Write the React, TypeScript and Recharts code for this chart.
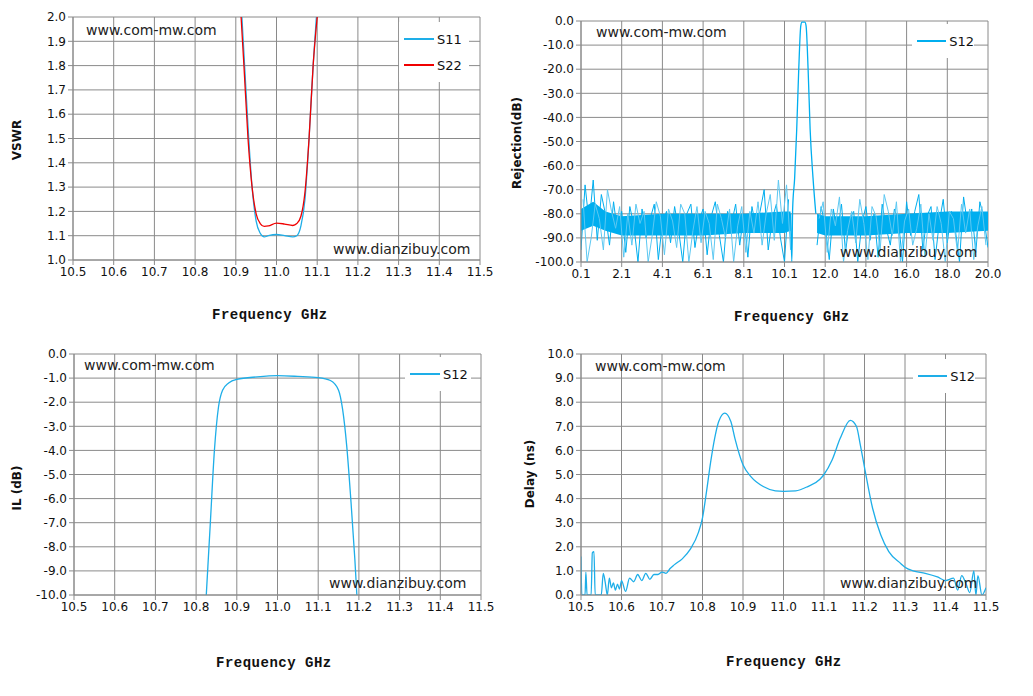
import React from "react";
import { Area, CartesianGrid, ComposedChart, Line, XAxis, YAxis } from "recharts";

const BLUE = "#1eaee8";
const RED = "#f00000";
const GRID = "#8a8a8a";

// ---- VSWR
const vswrS11X = [10.915, 10.92, 10.93, 10.94, 10.95, 10.96, 10.97, 10.98, 11.0, 11.02, 11.04, 11.05, 11.06, 11.07, 11.08, 11.09, 11.098];
const vswrS11Y = [2.0, 1.85, 1.55, 1.3, 1.16, 1.11, 1.095, 1.1, 1.105, 1.1, 1.095, 1.1, 1.14, 1.25, 1.5, 1.8, 2.0];
const vswrS22X = [10.913, 10.92, 10.93, 10.94, 10.95, 10.96, 10.97, 10.98, 11.0, 11.02, 11.04, 11.05, 11.06, 11.07, 11.08, 11.09, 11.1];
const vswrS22Y = [2.0, 1.8, 1.5, 1.3, 1.19, 1.15, 1.138, 1.14, 1.152, 1.148, 1.142, 1.15, 1.18, 1.28, 1.5, 1.8, 2.0];

// ---- Rejection (x = tick position, labels are evenly spaced)
const rejTickLabels = ["0.1", "2.1", "4.1", "6.1", "8.1", "10.1", "12.0", "14.0", "16.0", "18.0", "20.0"];
const rejLeft = [-95, -68, -84, -66, -91, -72, -80, -93, -75, -88, -79, -96, -77, -85, -100, -78, -90, -82, -76, -99, -84, -79, -92, -77, -87, -100, -80, -76, -94, -83, -78, -97, -81, -75, -89, -100, -79, -84, -76, -93, -80, -98, -77, -86, -79, -70, -95, -82, -76, -90, -100, -74];
const rejPassX = [5.15, 5.18, 5.2, 5.25, 5.3, 5.35, 5.4, 5.43, 5.5, 5.53, 5.58, 5.63, 5.7, 5.77];
const rejPassY = [-80, -100, -78, -65, -45, -20, -2, -0.5, -0.5, -2, -20, -45, -65, -80];
const rejRight = [-93, -77, -85, -99, -78, -88, -76, -96, -82, -79, -100, -84, -77, -91, -80, -98, -76, -86, -93, -78, -83, -100, -75, -89, -79, -72, -95, -81, -77, -99, -84, -74, -92, -79, -87, -100, -73, -85, -78, -96, -75, -82, -94];
const bandLeftX = [0, 0.3, 0.6, 1, 2, 3, 4, 5, 5.15];
const bandLeftHi = [-78, -75, -79, -81, -80, -80, -80, -79, -79];
const bandLeftLo = [-87, -85, -87, -89, -89, -89, -88, -88, -87];
const bandRightX = [5.8, 6, 7, 8, 9, 10];
const bandRightHi = [-80, -81, -81, -80, -79, -79];
const bandRightLo = [-88, -89, -89, -88, -88, -87];

// ---- IL
const ilX = [10.825, 10.835, 10.845, 10.855, 10.865, 10.88, 10.9, 10.95, 11.0, 11.05, 11.1, 11.13, 11.15, 11.16, 11.17, 11.18, 11.19, 11.195];
const ilY = [-10, -7, -4, -2.2, -1.5, -1.2, -1.05, -0.95, -0.9, -0.93, -0.98, -1.1, -1.5, -2.3, -3.8, -6, -8.5, -10];

// ---- Delay
const dlX = [10.5, 10.502, 10.51, 10.512, 10.515, 10.525, 10.528, 10.532, 10.535, 10.55, 10.555, 10.56, 10.565, 10.57, 10.575, 10.58, 10.585, 10.59, 10.595, 10.6, 10.61, 10.62, 10.63, 10.64, 10.65, 10.66, 10.67, 10.68, 10.69, 10.7, 10.71, 10.72, 10.73, 10.75, 10.77, 10.79, 10.8, 10.81, 10.82, 10.83, 10.84, 10.855, 10.87, 10.88, 10.9, 10.92, 10.95, 10.98, 11.0, 11.03, 11.06, 11.09, 11.1, 11.12, 11.14, 11.165, 11.18, 11.19, 11.2, 11.22, 11.24, 11.26, 11.29, 11.3, 11.32, 11.35, 11.38, 11.4, 11.42, 11.43, 11.44, 11.45, 11.46, 11.47, 11.475, 11.48, 11.49, 11.5];
const dlY = [1.6, 0, 0, 0.95, 0, 0, 1.75, 1.8, 0, 0, 0.9, 0.5, 0, 0.7, 0.3, 0.5, 0.2, 0.45, 0.25, 0.6, 0.15, 0.7, 0.55, 0.85, 0.6, 0.9, 0.65, 0.85, 0.85, 0.95, 0.9, 1.1, 1.25, 1.5, 1.9, 2.6, 3.2, 4.3, 5.5, 6.5, 7.2, 7.55, 7.2, 6.5, 5.4, 4.9, 4.5, 4.32, 4.3, 4.32, 4.5, 4.8, 5.0, 5.6, 6.5, 7.25, 7.0, 6.2, 5.3, 3.6, 2.5, 1.8, 1.3, 1.15, 1.0, 0.9, 0.75, 0.6, 0.7, 0.2, 0.8, 0.5, 0.1, 1.0, 0, 0.8, 0, 0.3];

const ghzTicks = [10.5, 10.6, 10.7, 10.8, 10.9, 11.0, 11.1, 11.2, 11.3, 11.4, 11.5];
const pts = (xs: number[], ys: number[]) => xs.map((x, i) => ({ x, y: ys[i] }));
const seq = (start: number, ys: number[]) => ys.map((y, i) => ({ x: +(start + i * 0.1).toFixed(2), y }));
const band = (xs: number[], lo: number[], hi: number[]) => xs.map((x, i) => ({ x, r: [lo[i], hi[i]] }));

const tickStyle = { fontSize: 12, fill: "#111", fontFamily: "DejaVu Sans" };
const wm: React.CSSProperties = { position: "absolute", fontFamily: "DejaVu Sans", fontSize: 14, color: "#222", lineHeight: "16px", whiteSpace: "nowrap" };
const title: React.CSSProperties = { position: "absolute", fontFamily: "Liberation Mono", fontWeight: "bold", fontSize: 14, color: "#111", whiteSpace: "nowrap", letterSpacing: 0.5 };
const ytitle: React.CSSProperties = { position: "absolute", fontFamily: "DejaVu Sans", fontWeight: "bold", fontSize: 12, color: "#111", whiteSpace: "nowrap", transform: "translate(-50%,-50%) rotate(-90deg)" };

function Text({ x, y, s, st }: { x: number; y: number; s: string; st: React.CSSProperties }) {
  return <div style={{ ...st, left: x, top: y }}>{s}</div>;
}

function LegendBox({ x, y, w, items }: { x: number; y: number; w: number; items: { name: string; color: string }[] }) {
  return (
    <div style={{ position: "absolute", left: x, top: y, width: w, background: "#fff", padding: "4px 0" }}>
      {items.map((it) => (
        <div key={it.name} style={{ display: "flex", alignItems: "center", height: 26 }}>
          <div style={{ width: 30, height: 1.5, background: it.color, marginLeft: 5, marginRight: 3 }} />
          <span style={{ fontFamily: "DejaVu Sans", fontSize: 13, color: "#111" }}>{it.name}</span>
        </div>
      ))}
    </div>
  );
}

function Panel(props: {
  left: number; top: number; plot: [number, number, number, number];
  xDomain: [number, number]; xTicks: number[]; xFmt: (v: number) => string;
  yDomain: [number, number]; yTicks: number[]; yFmt: (v: number) => string;
  children: React.ReactNode;
}) {
  const W = 500, H = 330;
  const [pl, pt, pr, pb] = props.plot;
  return (
    <div style={{ position: "absolute", left: props.left, top: props.top }}>
      <ComposedChart width={W} height={H} margin={{ top: pt, right: W - pr, left: 0, bottom: H - pb - 30 }}>
        <CartesianGrid stroke={GRID} strokeWidth={1} />
        <XAxis type="number" dataKey="x" domain={props.xDomain} ticks={props.xTicks} tickFormatter={props.xFmt}
          allowDataOverflow height={30} tick={tickStyle} stroke={GRID} tickSize={5} interval={0} />
        <YAxis type="number" domain={props.yDomain} ticks={props.yTicks} tickFormatter={props.yFmt}
          allowDataOverflow width={pl} tick={tickStyle} stroke={GRID} tickSize={5} interval={0} />
        {props.children}
      </ComposedChart>
    </div>
  );
}

const range = (a: number, b: number, s: number) => {
  const out: number[] = [];
  for (let v = a; v <= b + 1e-9; v += s) out.push(+v.toFixed(2));
  return out;
};

export default function App() {
  const f1 = (v: number) => v.toFixed(1);
  const line = (data: any[], color: string, key: string) => (
    <Line key={key} data={data} dataKey="y" type="monotone" stroke={color} strokeWidth={1.3} dot={false} isAnimationActive={false} />
  );
  const NOISE = "#00aeef";
  return (
    <div style={{ position: "relative", width: 1033, height: 696, margin: -8, background: "#fff" }}>
      <Panel left={0} top={0} plot={[73, 17, 480, 260]} xDomain={[10.5, 11.5]} xTicks={ghzTicks} xFmt={f1}
        yDomain={[1, 2]} yTicks={range(1, 2, 0.1)} yFmt={f1}>
        {line(pts(vswrS11X, vswrS11Y), BLUE, "s11")}
        {line(pts(vswrS22X, vswrS22Y), RED, "s22")}
      </Panel>
      <Panel left={508} top={0} plot={[73, 21, 480, 262]} xDomain={[0, 10]} xTicks={range(0, 10, 1)}
        xFmt={(v) => rejTickLabels[Math.round(v)]} yDomain={[-100, 0]} yTicks={range(-100, 0, 10)} yFmt={f1}>
        <Area data={band(bandLeftX, bandLeftLo, bandLeftHi)} dataKey="r" type="linear" stroke="none" fill={NOISE} fillOpacity={1} isAnimationActive={false} />
        <Area data={band(bandRightX, bandRightLo, bandRightHi)} dataKey="r" type="linear" stroke="none" fill={NOISE} fillOpacity={1} isAnimationActive={false} />
        <Line data={seq(0, rejLeft)} dataKey="y" type="linear" stroke={NOISE} strokeWidth={1} dot={false} isAnimationActive={false} />
        <Line data={seq(0.05, rejLeft.slice().reverse())} dataKey="y" type="linear" stroke="#5cc8f2" strokeWidth={1} dot={false} isAnimationActive={false} />
        <Line data={pts(rejPassX, rejPassY)} dataKey="y" type="monotone" stroke={NOISE} strokeWidth={1.3} dot={false} isAnimationActive={false} />
        <Line data={seq(5.8, rejRight)} dataKey="y" type="linear" stroke={NOISE} strokeWidth={1} dot={false} isAnimationActive={false} />
        <Line data={seq(5.85, rejRight.slice(0, 42).reverse())} dataKey="y" type="linear" stroke="#5cc8f2" strokeWidth={1} dot={false} isAnimationActive={false} />
      </Panel>
      <Panel left={0} top={336} plot={[74, 18, 481, 259]} xDomain={[10.5, 11.5]} xTicks={ghzTicks} xFmt={f1}
        yDomain={[-10, 0]} yTicks={range(-10, 0, 1)} yFmt={f1}>
        {line(pts(ilX, ilY), BLUE, "il")}
      </Panel>
      <Panel left={508} top={336} plot={[73, 18, 478, 259]} xDomain={[10.5, 11.5]} xTicks={ghzTicks} xFmt={f1}
        yDomain={[0, 10]} yTicks={range(0, 10, 1)} yFmt={f1}>
        {line(pts(dlX, dlY), BLUE, "dl")}
      </Panel>

      <LegendBox x={399} y={22} w={70} items={[{ name: "S11", color: BLUE }, { name: "S22", color: RED }]} />
      <LegendBox x={912} y={24} w={62} items={[{ name: "S12", color: NOISE }]} />
      <LegendBox x={405} y={357} w={66} items={[{ name: "S12", color: BLUE }]} />
      <LegendBox x={913} y={359} w={62} items={[{ name: "S12", color: BLUE }]} />

      <Text x={86} y={22} s="www.com-mw.com" st={wm} />
      <Text x={333} y={241} s="www.dianzibuy.com" st={wm} />
      <Text x={596} y={24} s="www.com-mw.com" st={wm} />
      <Text x={840} y={244} s="www.dianzibuy.com" st={wm} />
      <Text x={84} y={357} s="www.com-mw.com" st={wm} />
      <Text x={329} y={575} s="www.dianzibuy.com" st={wm} />
      <Text x={595} y={358} s="www.com-mw.com" st={wm} />
      <Text x={840} y={575} s="www.dianzibuy.com" st={wm} />

      <Text x={212} y={307} s="Frequency GHz" st={title} />
      <Text x={734} y={309} s="Frequency GHz" st={title} />
      <Text x={216} y={655} s="Frequency GHz" st={title} />
      <Text x={726} y={654} s="Frequency GHz" st={title} />

      <Text x={17} y={140} s="VSWR" st={ytitle} />
      <Text x={517} y={143} s="Rejection(dB)" st={ytitle} />
      <Text x={17} y={488} s="IL (dB)" st={ytitle} />
      <Text x={530} y={474} s="Delay (ns)" st={ytitle} />
    </div>
  );
}
